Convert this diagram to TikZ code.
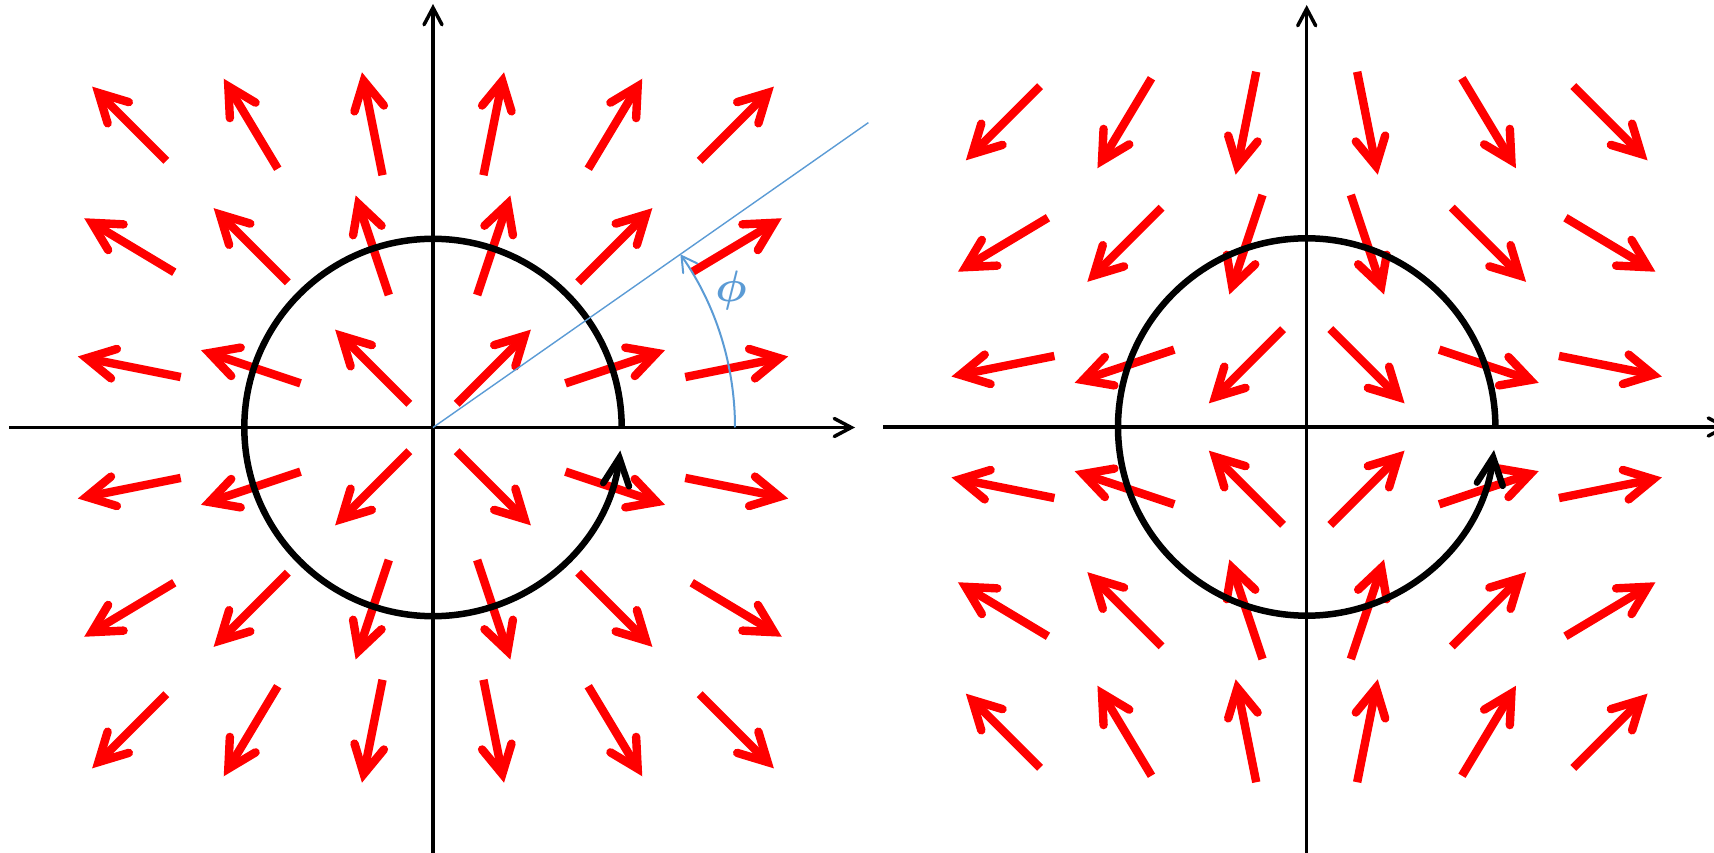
\documentclass[tikz,border=0pt]{standalone}
\usetikzlibrary{arrows.meta}
\definecolor{fieldred}{RGB}{255,0,0}
\definecolor{angblue}{RGB}{91,155,213}
\begin{document}
\begin{tikzpicture}[x=1pt,y=1pt,
  axisline/.style={line width=3.5pt,-{Straight Barb[length=17pt,width=18pt,line join=miter,line cap=round]}},
  vec/.style={fieldred,line width=8.4pt,line cap=butt,-{Straight Barb[length=28pt,width=30pt,line join=miter,line cap=round]}},
  circpath/.style={black,line width=6.5pt,-{Straight Barb[length=27pt,width=26pt,line join=miter,line cap=round]}},
  anglearc/.style={angblue,line width=2pt,-{Straight Barb[length=15pt,width=17pt,line join=miter,line cap=round]}},
  angleray/.style={angblue,line width=1.4pt},
  anglelabel/.style={angblue,inner sep=0pt,scale=4.4,font=\boldmath}
]
\useasboundingbox (0,0) rectangle (1714,852);
\coordinate (OL) at (433,424.5);
\coordinate (OR) at (1306.7,425);

% left field: radial
\begin{scope}[shift={(433pt,424.5pt)},x=121.5pt,y=121.5pt]
\foreach \i in {-2.5,-1.5,-0.5,0.5,1.5,2.5}{
  \foreach \j in {-2.5,-1.5,-0.5,0.5,1.5,2.5}{
    \pgfmathsetmacro\dx{0.432*\i/sqrt(\i*\i+\j*\j)}
    \pgfmathsetmacro\dy{0.432*\j/sqrt(\i*\i+\j*\j)}
    \draw[vec] ({\i-(\dx)},{\j-(\dy)}) -- ({\i+(\dx)},{\j+(\dy)});
  }}
\end{scope}

% right field: saddle
\begin{scope}[shift={(1306.7pt,425pt)},x=121.5pt,y=121.5pt]
\foreach \i in {-2.5,-1.5,-0.5,0.5,1.5,2.5}{
  \foreach \j in {-2.5,-1.5,-0.5,0.5,1.5,2.5}{
    \pgfmathsetmacro\dx{0.432*\i/sqrt(\i*\i+\j*\j)}
    \pgfmathsetmacro\dy{0.432*\j/sqrt(\i*\i+\j*\j)}
    \draw[vec] ({\i-(\dx)},{\j+(\dy)}) -- ({\i+(\dx)},{\j-(\dy)});
  }}
\end{scope}

% axes
\coordinate (LXa) at (9.3,424.5);
\coordinate (LXb) at (855,424.5);
\coordinate (LYa) at (433,-3);
\coordinate (LYb) at (433,848);
\coordinate (RXa) at (883.3,425);
\coordinate (RXb) at (1729,425);
\coordinate (RYa) at (1306.7,-3);
\coordinate (RYb) at (1306.7,847);
\draw[axisline] (LXa) -- (LXb);
\draw[axisline] (LYa) -- (LYb);
\draw[axisline] (RXa) -- (RXb);
\draw[axisline] (RYa) -- (RYb);

% circles
\draw[circpath] ([shift={(0:188.7)}]OL) arc[start angle=0,end angle=353,radius=188.7];
\draw[circpath] ([shift={(0:188.7)}]OR) arc[start angle=0,end angle=353,radius=188.7];

% angle
\coordinate (RayEnd) at ([shift={(35:531.5)}]OL);
\draw[angleray] (OL) -- (RayEnd);
\draw[anglearc] ([shift={(0:302)}]OL) arc[start angle=0,end angle=35,radius=302];
\node[anglelabel] (phi) at (731,561) {$\phi$};
\end{tikzpicture}
\end{document}
